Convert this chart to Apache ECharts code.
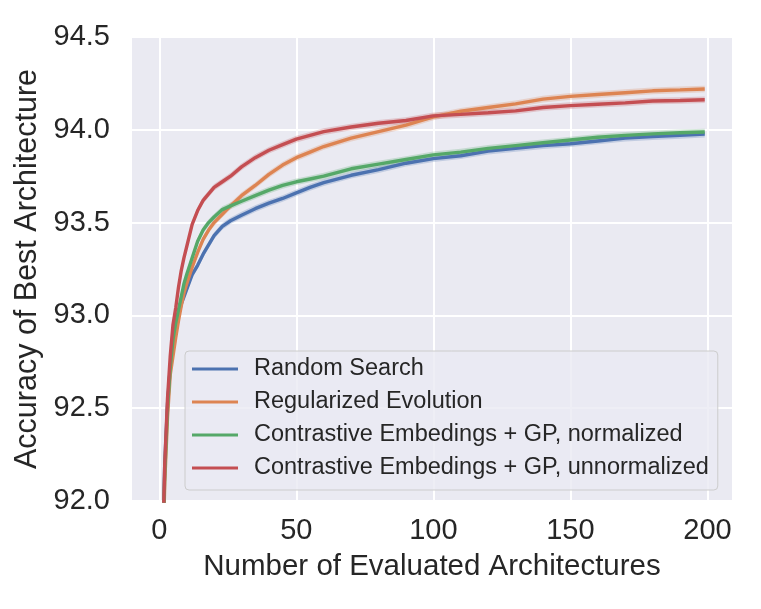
<!DOCTYPE html>
<html>
<head>
<meta charset="utf-8">
<script src="https://cdn.jsdelivr.net/npm/echarts@6/dist/echarts.min.js"></script>
<style>
  html, body { margin: 0; padding: 0; background: #ffffff; }
  #chart { width: 761px; height: 609px; }
</style>
</head>
<body>
<div id="chart"></div>
<script>
// number of evaluated architectures (sample points)
var evals = [1, 2, 3, 4, 5, 6, 7, 8, 9, 10, 12, 14, 16, 18, 20, 23, 26, 30, 35, 40,
             45, 50, 55, 60, 70, 80, 90, 100, 110, 120, 130, 140, 150, 160, 170, 180, 190, 199];

var randomSearch = [91.6, 92.2, 92.52, 92.72, 92.85, 92.93, 93.0, 93.06, 93.1, 93.14,
    93.22, 93.27, 93.33, 93.38, 93.43, 93.48, 93.51, 93.54, 93.575, 93.605,
    93.63, 93.66, 93.69, 93.715, 93.755, 93.785, 93.82, 93.845, 93.86, 93.885,
    93.9, 93.915, 93.925, 93.94, 93.955, 93.963, 93.97, 93.977];

var regEvolution = [91.5, 92.1, 92.45, 92.68, 92.78, 92.88, 92.97, 93.05, 93.12, 93.17,
    93.26, 93.34, 93.41, 93.46, 93.5, 93.545, 93.59, 93.645, 93.7, 93.76,
    93.81, 93.85, 93.88, 93.91, 93.955, 93.99, 94.025, 94.07, 94.1, 94.12,
    94.14, 94.165, 94.18, 94.19, 94.2, 94.21, 94.215, 94.22];

var ceNormalized = [91.55, 92.15, 92.5, 92.72, 92.87, 92.96, 93.03, 93.1, 93.17, 93.22,
    93.31, 93.4, 93.46, 93.5, 93.53, 93.57, 93.59, 93.615, 93.645, 93.675,
    93.7, 93.72, 93.735, 93.75, 93.79, 93.815, 93.84, 93.865, 93.88, 93.9,
    93.915, 93.93, 93.945, 93.96, 93.97, 93.978, 93.984, 93.988];

var ceUnnormalized = [91.6, 92.2, 92.55, 92.78, 92.95, 93.04, 93.15, 93.24, 93.31, 93.37,
    93.49, 93.565, 93.62, 93.655, 93.69, 93.72, 93.75, 93.8, 93.85, 93.89,
    93.92, 93.95, 93.97, 93.99, 94.015, 94.035, 94.05, 94.075, 94.083, 94.092,
    94.102, 94.12, 94.13, 94.138, 94.145, 94.155, 94.158, 94.162];

// half width of the shaded confidence band
var bandHalf = 0.018;

var names = ['Random Search', 'Regularized Evolution',
             'Contrastive Embedings + GP, normalized',
             'Contrastive Embedings + GP, unnormalized'];
var colors = ['#4C72B0', '#DD8452', '#55A868', '#C44E52'];
var seriesValues = [randomSearch, regEvolution, ceNormalized, ceUnnormalized];

var xTicks = [0, 50, 100, 150, 200];

var textColor = '#262626';
var font = 'Liberation Sans, Arial, sans-serif';

function pairs(vals) {
    var out = [];
    for (let i = 0; i < evals.length; i++) {
        out.push([evals[i], vals[i]]);
    }
    return out;
}

// shaded band drawn as one polygon, points go through the axis scales
function bandRenderer(vals, color) {
    return function (params, api) {
        var pts = [];
        for (let i = 0; i < evals.length; i++) {
            pts.push(api.coord([evals[i], vals[i] + bandHalf]));
        }
        for (let i = evals.length - 1; i >= 0; i--) {
            pts.push(api.coord([evals[i], vals[i] - bandHalf]));
        }
        return {
            type: 'polygon',
            shape: { points: pts },
            style: { fill: color, opacity: 0.25 }
        };
    };
}

var series = [];
for (let k = 0; k < seriesValues.length; k++) {
    var last = evals.length - 1;
    series.push({
        name: 'band' + k,
        type: 'custom',
        silent: true,
        clip: true,
        renderItem: bandRenderer(seriesValues[k], colors[k]),
        data: [[evals[last], seriesValues[k][last]]],
        z: 2
    });
}
for (let k = 0; k < seriesValues.length; k++) {
    series.push({
        name: names[k],
        type: 'line',
        symbol: 'none',
        color: colors[k],
        lineStyle: { width: 3.4, color: colors[k] },
        z: 5,
        data: pairs(seriesValues[k])
    });
}

var myChart = echarts.init(document.getElementById('chart'));
var option = {
    backgroundColor: '#ffffff',
    animation: false,
    grid: {
        left: 132,
        right: 29,
        top: 37,
        bottom: 108,
        show: true,
        backgroundColor: '#EAEAF2',
        borderWidth: 0
    },
    legend: {
        data: names,
        orient: 'vertical',
        left: 185,
        top: 351,
        icon: 'rect',
        itemWidth: 46,
        itemHeight: 3,
        itemGap: 9,
        padding: [6, 9, 10, 7],
        backgroundColor: 'rgba(234,234,242,0.8)',
        borderColor: '#cccccc',
        borderWidth: 1,
        borderRadius: 4,
        textStyle: {
            color: textColor,
            fontFamily: font,
            fontSize: 23.5,
            lineHeight: 24,
            padding: [0, 0, 0, 11]
        }
    },
    xAxis: {
        type: 'value',
        min: -9.95,
        max: 208.95,
        name: 'Number of Evaluated Architectures',
        nameLocation: 'middle',
        nameGap: 51,
        nameTextStyle: { color: textColor, fontFamily: font, fontSize: 29.5 },
        axisLine: { show: false },
        axisTick: { show: false, customValues: xTicks },
        axisLabel: {
            customValues: xTicks,
            color: textColor,
            fontFamily: font,
            fontSize: 29,
            margin: 15
        },
        splitLine: { show: true, lineStyle: { color: '#ffffff', width: 2 } }
    },
    yAxis: {
        type: 'value',
        min: 92,
        max: 94.5,
        interval: 0.5,
        name: 'Accuracy of Best Architecture',
        nameLocation: 'middle',
        nameGap: 85,
        nameTextStyle: { color: textColor, fontFamily: font, fontSize: 30.5 },
        axisLine: { show: false },
        axisTick: { show: false },
        axisLabel: {
            color: textColor,
            fontFamily: font,
            fontSize: 29,
            margin: 22,
            formatter: function (v) { return v.toFixed(1); }
        },
        splitLine: { show: true, lineStyle: { color: '#ffffff', width: 2 } }
    },
    series: series
};
myChart.setOption(option);
</script>
</body>
</html>
